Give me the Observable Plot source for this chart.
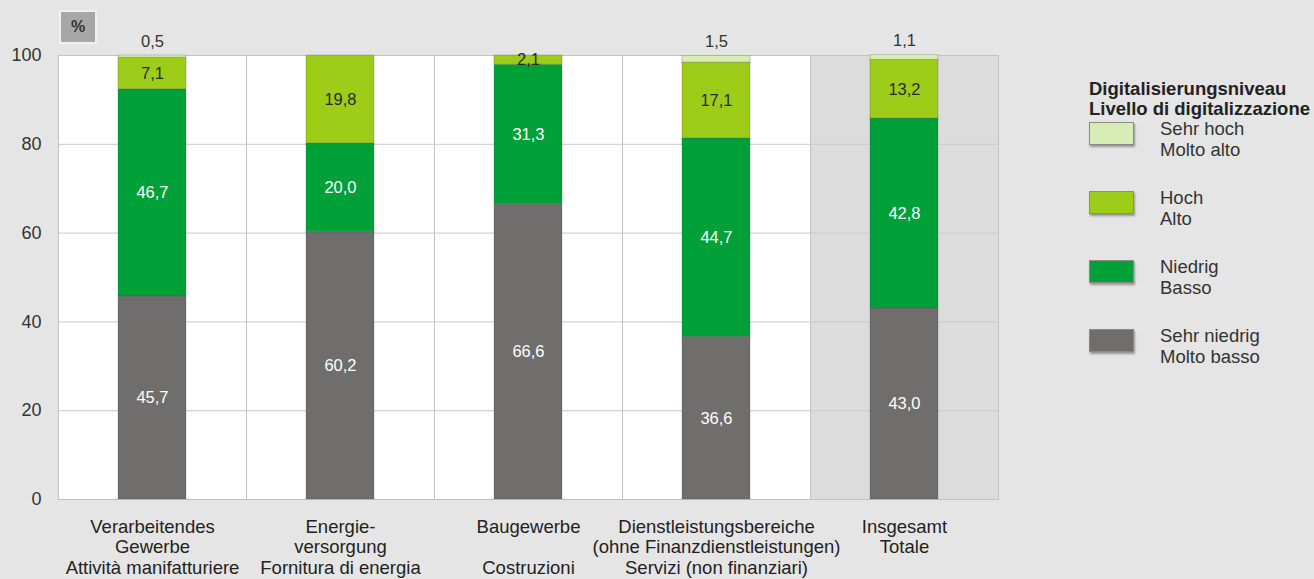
<!DOCTYPE html>
<html><head><meta charset="utf-8">
<script src="https://cdn.jsdelivr.net/npm/d3@7"></script>
<script src="https://cdn.jsdelivr.net/npm/@observablehq/plot@0.6"></script>
<style>
body{margin:0;background:#e5e5e5;font-family:"Liberation Sans",Arial,sans-serif;color:#222;}
#wrap{position:relative;width:1314px;height:579px;overflow:hidden;}
#chart{position:absolute;left:0;top:0;}
#pct{position:absolute;left:59px;top:10px;width:34px;height:30px;background:#a7a7a7;border:2px solid #f0f0f0;font-weight:bold;font-size:16px;line-height:30px;text-align:center;color:#333;}
#legend{position:absolute;left:1089px;top:79px;width:230px;}
#legend .title{font-weight:bold;font-size:18.5px;line-height:20px;white-space:nowrap;color:#222;}
#legend .item{position:absolute;left:0;}
#legend .sw{position:absolute;left:0;width:43px;height:21px;border:1px solid #8a8a8a;box-shadow:1px 2px 2px rgba(0,0,0,0.35);}
#legend .lab{position:absolute;left:71px;top:-4px;font-size:18.5px;line-height:21px;white-space:nowrap;color:#333;}
</style></head><body>
<div id="wrap"><div id="chart"></div><div id="pct">%</div><div id="legend"></div></div>
<script>
const categories = ["Verarbeitendes Gewerbe", "Energieversorgung", "Baugewerbe", "Dienstleistungsbereiche", "Insgesamt"];
const categoryLabels = [
  "Verarbeitendes\nGewerbe\nAttività manifatturiere",
  "Energie-\nversorgung\nFornitura di energia",
  "Baugewerbe\n\nCostruzioni",
  "Dienstleistungsbereiche\n(ohne Finanzdienstleistungen)\nServizi (non finanziari)",
  "Insgesamt\nTotale"
];
const levels = ["Sehr niedrig", "Niedrig", "Hoch", "Sehr hoch"];
const levelLabels = ["Sehr niedrig\nMolto basso", "Niedrig\nBasso", "Hoch\nAlto", "Sehr hoch\nMolto alto"];
const sehrNiedrig = [45.7, 60.2, 66.6, 36.6, 43.0];
const niedrig = [46.7, 20.0, 31.3, 44.7, 42.8];
const hoch = [7.1, 19.8, 2.1, 17.1, 13.2];
const sehrHoch = [0.5, 0, 0, 1.5, 1.1];
const levelColors = ["#6f6e6c", "#00a039", "#9dcc19", "#d8ecb5"];
const yTicks = [0, 20, 40, 60, 80, 100];
const legendTitle = "Digitalisierungsniveau\nLivello di digitalizzazione";

const series = [sehrNiedrig, niedrig, hoch, sehrHoch];
const rows = [];
categories.forEach((c, i) => levels.forEach((l, j) => rows.push({category: c, level: l, value: series[j][i]})));
const fmt = v => v.toFixed(1).replace(".", ",");
const labelOf = Object.fromEntries(categories.map((c, i) => [c, categoryLabels[i]]));

const chart = Plot.plot({
  width: 1040, height: 579,
  marginTop: 55, marginBottom: 80, marginLeft: 58, marginRight: 42,
  style: {background: "transparent", fontFamily: "'Liberation Sans', Arial, sans-serif", fontSize: "16px", color: "#333"},
  fx: {domain: categories, padding: 0, label: null},
  x: {domain: ["bar"], paddingInner: 0, paddingOuter: 0.88, axis: null},
  y: {domain: [0, 100], label: null},
  color: {domain: levels, range: levelColors},
  marks: [
    Plot.rect(categories, {fx: d => d, fill: d => d === "Insgesamt" ? "#dcdcdc" : "#ffffff"}),
    Plot.gridY(yTicks, {stroke: "#c9c9c9", strokeOpacity: 1}),
    Plot.frame({stroke: "#c2c2c2"}),
    Plot.barY(rows, Plot.stackY({fx: "category", x: () => "bar", y: "value", fill: "level", stroke: "#444", strokeOpacity: 0.25, strokeWidth: 1})),
    Plot.text(rows, Plot.stackY({fx: "category", x: () => "bar", y: "value",
      text: d => (d.level === "Sehr niedrig" || d.level === "Niedrig") ? fmt(d.value) : "",
      fill: "white", fontSize: 16.5})),
    Plot.text(rows, Plot.stackY({fx: "category", x: () => "bar", y: "value",
      text: d => d.level === "Hoch" ? fmt(d.value) : "",
      fill: "#2a2a2a", fontSize: 16.5})),
    Plot.text(rows, Plot.stackY2({fx: "category", x: () => "bar", y: "value",
      text: d => (d.level === "Sehr hoch" && d.value > 0) ? fmt(d.value) : "",
      fill: "#333", fontSize: 16.5, dy: -14})),
    Plot.axisY(yTicks, {tickSize: 0, tickPadding: 17, fontSize: 18, fill: "#333", tickFormat: d => d}),
    Plot.axisFx({anchor: "bottom", tickSize: 0, tickPadding: 19, fontSize: 18.5, lineHeight: 1.1, fill: "#222", tickFormat: d => labelOf[d], label: null})
  ]
});
document.getElementById("chart").appendChild(chart);

const legend = document.getElementById("legend");
const t = document.createElement("div");
t.className = "title";
t.innerHTML = legendTitle.split("\n").join("<br>");
legend.appendChild(t);
const order = [3, 2, 1, 0];
order.forEach((j, k) => {
  const it = document.createElement("div");
  it.className = "item";
  it.style.top = (43 + k * 69) + "px";
  const sw = document.createElement("div");
  sw.className = "sw";
  sw.style.background = levelColors[j];
  const lab = document.createElement("div");
  lab.className = "lab";
  lab.innerHTML = levelLabels[j].split("\n").join("<br>");
  it.appendChild(sw); it.appendChild(lab);
  legend.appendChild(it);
});
</script>
</body></html>
